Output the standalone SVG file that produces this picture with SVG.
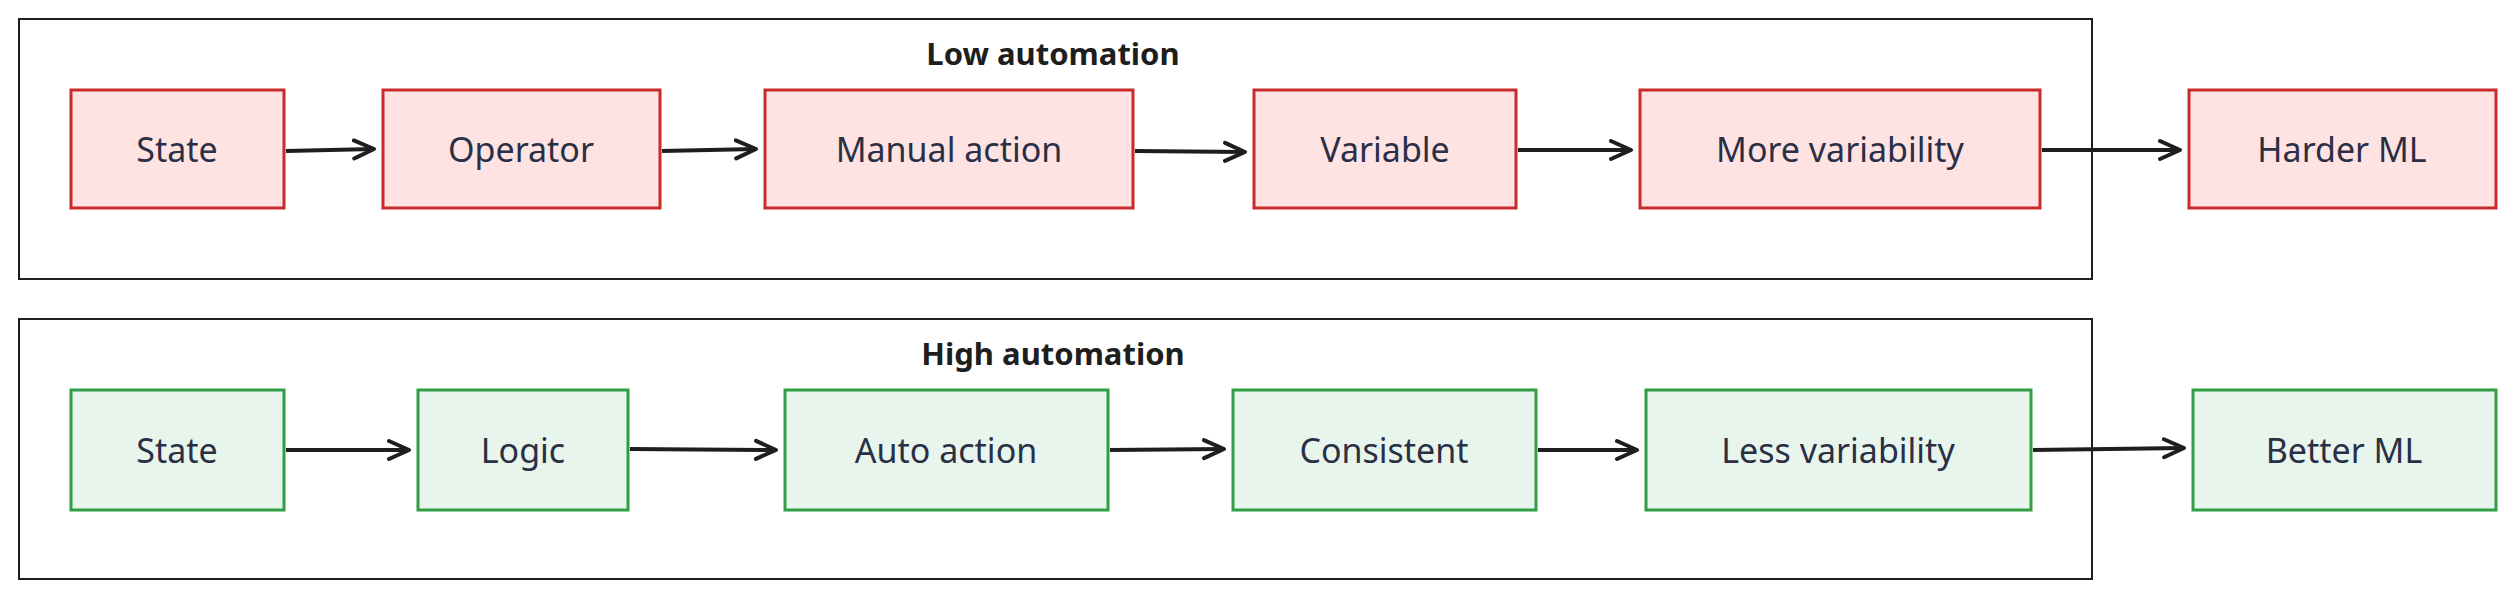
<svg xmlns="http://www.w3.org/2000/svg" width="2513" height="600" viewBox="0 0 2513 600">
<style>
.c{fill:none;stroke:#1e1e1e;stroke-width:2}
.r{fill:#ffe3e3;stroke:#c92a2a;stroke-width:3}
.g{fill:#e8f5ec;stroke:#2f9e44;stroke-width:3}
.t{font-family:"Noto Sans",sans-serif;font-size:34px;fill:#2a2f45;text-anchor:middle;dominant-baseline:central}
.h{font-family:"Noto Sans",sans-serif;font-size:31px;font-weight:bold;fill:#1e1e1e;text-anchor:middle;dominant-baseline:central}
.a{fill:none;stroke:#1e1e1e;stroke-width:4;marker-end:url(#m)}
</style>
<defs><marker id="m" markerWidth="26" markerHeight="26" refX="22" refY="13" orient="auto" markerUnits="userSpaceOnUse" viewBox="0 0 26 26"><path d="M2,4 L22,13 L2,22" fill="none" stroke="#1e1e1e" stroke-width="4" stroke-linecap="round" stroke-linejoin="round"/></marker></defs>
<g id="low"><rect class="c" x="19" y="19" width="2073" height="260"/><text class="h" x="1053" y="53">Low automation</text></g>
<g id="high"><rect class="c" x="19" y="319" width="2073" height="260"/><text class="h" x="1053" y="353">High automation</text></g>
<g id="n1"><rect class="r" x="71" y="90" width="213" height="118"/><text class="t" x="177" y="149">State</text></g>
<g id="n2"><rect class="r" x="383" y="90" width="277" height="118"/><text class="t" x="521" y="149">Operator</text></g>
<g id="n3"><rect class="r" x="765" y="90" width="368" height="118"/><text class="t" x="949" y="149">Manual action</text></g>
<g id="n4"><rect class="r" x="1254" y="90" width="262" height="118"/><text class="t" x="1385" y="149">Variable</text></g>
<g id="n5"><rect class="r" x="1640" y="90" width="400" height="118"/><text class="t" x="1840" y="149">More variability</text></g>
<g id="n6"><rect class="r" x="2189" y="90" width="307" height="118"/><text class="t" x="2342" y="149">Harder ML</text></g>
<g id="m1"><rect class="g" x="71" y="390" width="213" height="120"/><text class="t" x="177" y="450">State</text></g>
<g id="m2"><rect class="g" x="418" y="390" width="210" height="120"/><text class="t" x="523" y="450">Logic</text></g>
<g id="m3"><rect class="g" x="785" y="390" width="323" height="120"/><text class="t" x="946" y="450">Auto action</text></g>
<g id="m4"><rect class="g" x="1233" y="390" width="303" height="120"/><text class="t" x="1384" y="450">Consistent</text></g>
<g id="m5"><rect class="g" x="1646" y="390" width="385" height="120"/><text class="t" x="1838" y="450">Less variability</text></g>
<g id="m6"><rect class="g" x="2193" y="390" width="303" height="120"/><text class="t" x="2344" y="450">Better ML</text></g>
<g id="connectors">
<path class="a" d="M286,151 L374,149"/>
<path class="a" d="M662,151 L756,149"/>
<path class="a" d="M1135,151 L1245,152"/>
<path class="a" d="M1518,150 L1631,150"/>
<path class="a" d="M2042,150 L2180,150"/>
<path class="a" d="M286,450 L409,450"/>
<path class="a" d="M630,449 L776,450"/>
<path class="a" d="M1110,450 L1224,449"/>
<path class="a" d="M1538,450 L1637,450"/>
<path class="a" d="M2033,450 L2184,448"/>
</g>
</svg>
